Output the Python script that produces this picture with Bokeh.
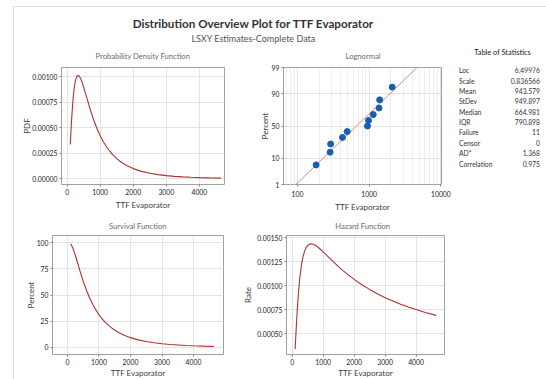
from statistics import NormalDist
from bokeh.plotting import figure
from bokeh.models import Range1d, FixedTicker, PrintfTickFormatter, Spacer
from bokeh.layouts import column, row
from bokeh.embed import file_html
from bokeh.resources import INLINE
from bokeh.core.properties import value

# ---------------- data ----------------
main_title = "Distribution Overview Plot for TTF Evaporator"
sub_title = "LSXY Estimates-Complete Data"
panel_titles_top = ["Probability Density Function", "Lognormal"]
panel_titles_bottom = ["Survival Function", "Hazard Function"]

ttf = [95, 110, 120, 130, 150, 175, 200, 225, 250, 300, 350, 400, 450, 500, 600, 700, 800, 900,
       1000, 1100, 1200, 1350, 1500, 1650, 1800, 2000, 2250, 2500, 2750, 3000, 3250, 3500, 3750,
       4000, 4300, 4650]
pdf_vals = [0.000336, 0.000429, 0.000489, 0.000547, 0.000652, 0.000763, 0.000850, 0.000916, 0.000963,
            0.001011, 0.001015, 0.000991, 0.000950, 0.000900, 0.000789, 0.000680, 0.000582, 0.000496,
            0.000423, 0.000362, 0.000310, 0.000247, 0.000198, 0.000160, 0.000131, 0.000100, 0.000073,
            0.000055, 0.000041, 0.000031, 0.000024, 0.000019, 0.000015, 0.000012, 0.000009, 0.000007]
surv_pct = [99.0, 98.4, 98.0, 97.4, 96.3, 94.5, 92.5, 90.2, 87.9, 82.9, 77.9, 72.8, 68.0, 63.3, 54.9,
            47.6, 41.3, 35.9, 31.3, 27.4, 24.0, 19.9, 16.5, 13.9, 11.7, 9.4, 7.3, 5.7, 4.5, 3.6, 2.9,
            2.4, 1.9, 1.6, 1.3, 1.0]
hazard = [0.000339, 0.000436, 0.000499, 0.000561, 0.000677, 0.000807, 0.000919, 0.001015, 0.001096,
          0.001219, 0.001304, 0.001361, 0.001398, 0.001421, 0.001437, 0.001430, 0.001411, 0.001383,
          0.001352, 0.001322, 0.001291, 0.001243, 0.001197, 0.001155, 0.001115, 0.001066, 0.001010,
          0.000961, 0.000915, 0.000875, 0.000840, 0.000805, 0.000777, 0.000750, 0.000719, 0.000690]

fail_times = [182, 285, 290, 424, 494, 947, 979, 1139, 1370, 1400, 2094]
fail_pct = [6.1, 14.9, 23.7, 32.5, 41.2, 50.0, 58.8, 67.5, 76.3, 85.1, 93.9]
fit_x = [95, 4660]
fit_pct = [1, 99]

x_ticks = [0, 1000, 2000, 3000, 4000]
pdf_ticks = [0.0, 0.00025, 0.0005, 0.00075, 0.001]
surv_ticks = [0, 25, 50, 75, 100]
haz_ticks = [0.0005, 0.00075, 0.001, 0.00125, 0.0015]
log_x_ticks = [100, 1000, 10000]
log_x_minor = [70, 80, 90, 200, 300, 400, 500, 600, 700, 800, 900,
               2000, 3000, 4000, 5000, 6000, 7000, 8000, 9000]
prob_ticks = [1, 10, 50, 90, 99]

stat_title = "Table of Statistics"
stat_labels = ["Loc", "Scale", "Mean", "StDev", "Median", "IQR", "Failure", "Censor", "AD*", "Correlation"]
stat_values = ["6.49976", "0.836566", "943.579", "949.897", "664.981", "790.898", "11", "0", "1.368", "0.975"]

# ---------------- style ----------------
FONT = "Lato"
CURVE = "#b0302c"
FIT = "#d98a80"
DOT = "#1560b0"
GRID = "#e3e3e3"
PTITLE = "#6a6a6a"

nd = NormalDist()
def zq(p):
    return nd.inv_cdf(p / 100.0)


def blank(w, h):
    f = figure(frame_width=w, frame_height=h, x_range=Range1d(0, w), y_range=Range1d(h, 0),
               output_backend="svg", toolbar_location=None, min_border=0, title=None,
               x_axis_location=None, y_axis_location=None)
    f.grid.visible = False
    f.outline_line_color = None
    return f


def make_panel(xr, yr, fw, fh, bl, bt, br, bb, ylabel, xstand, ystand, x_axis_type="linear"):
    p = figure(frame_width=fw, frame_height=fh, x_range=xr, y_range=yr, title=None,
               x_axis_type=x_axis_type, output_backend="svg", toolbar_location=None,
               min_border_left=bl, min_border_top=bt, min_border_right=br, min_border_bottom=bb,
               background_fill_color="white", border_fill_color="white")
    p.outline_line_color = "#a0a0a0"
    p.outline_line_width = 1
    for ax in p.axis:
        ax.axis_line_color = None
        ax.major_tick_line_color = "#808080"
        ax.major_tick_out = 2
        ax.major_tick_in = 0
        ax.minor_tick_line_color = None
        ax.major_label_text_font = FONT
        ax.major_label_text_font_size = "6.8px"
        ax.major_label_text_color = "#222222"
        ax.major_label_standoff = 2
        ax.axis_label_text_font = FONT
        ax.axis_label_text_font_size = "8px"
        ax.axis_label_text_font_style = "normal"
        ax.axis_label_text_color = "#3a3a3a"
    p.xaxis.axis_label_standoff = xstand
    p.yaxis.axis_label_standoff = ystand
    p.xaxis.axis_label = "TTF Evaporator"
    p.yaxis.axis_label = ylabel
    p.grid.grid_line_color = GRID
    p.grid.grid_line_width = 1
    return p

# Header (main title, subtitle, top panel titles, table title)
p_head = blank(532, 55)
p_head.text(x=[239], y=[15.5], text=[main_title], text_font=value(FONT),
            text_font_size=value("11.7px"), text_font_style="bold", text_align="center",
            text_baseline="middle", text_color="#333333")
p_head.text(x=[239], y=[31], text=[sub_title], text_font=value(FONT),
            text_font_size=value("9px"), text_align="center", text_baseline="middle",
            text_color="#555555")
p_head.text(x=[128.4, 348.5], y=[48.7, 48.7], text=panel_titles_top, text_font=value(FONT),
            text_font_size=value("7.6px"), text_align="center", text_baseline="middle",
            text_color=PTITLE)
p_head.text(x=[488], y=[44.5], text=[stat_title], text_font=value(FONT),
            text_font_size=value("7.4px"), text_align="center", text_baseline="middle",
            text_color="#222222")

# PDF panel
p_pdf = make_panel(Range1d(-170, 4760), Range1d(-0.000056, 0.001093),
                   163, 117, 47, 5, 16, 31, "PDF", 2, -3)
p_pdf.xaxis.ticker = FixedTicker(ticks=x_ticks)
p_pdf.yaxis.ticker = FixedTicker(ticks=pdf_ticks)
p_pdf.yaxis.formatter = PrintfTickFormatter(format="%.5f")
p_pdf.line(ttf, pdf_vals, line_color=CURVE, line_width=1.1)

# Lognormal probability panel
p_log = make_panel(Range1d(63.8, 10200), Range1d(zq(1), zq(99)),
                   158, 117, 43, 5, 14, 31, "Percent", 2, -1, x_axis_type="log")
p_log.xaxis.ticker = FixedTicker(ticks=log_x_ticks, minor_ticks=log_x_minor)
p_log.xaxis.formatter = PrintfTickFormatter(format="%d")
p_log.xgrid.minor_grid_line_color = "#eeeeee"
prob_z = [zq(v) for v in prob_ticks]
p_log.yaxis.ticker = FixedTicker(ticks=prob_z)
p_log.yaxis.major_label_overrides = {zz: str(v) for zz, v in zip(prob_z, prob_ticks)}
p_log.line(fit_x, [zq(v) for v in fit_pct], line_color=FIT, line_width=1)
p_log.scatter(fail_times, [zq(v) for v in fail_pct], size=6, fill_color=DOT, line_color=DOT)

# Table of statistics
p_tab = blank(91, 153)
row_y = [2.7 + i * 10.37 for i in range(len(stat_labels))]
p_tab.text(x=[3.5] * len(stat_labels), y=row_y, text=stat_labels, text_font=value(FONT),
           text_font_size=value("6.8px"), text_align="left", text_baseline="middle",
           text_color="#333333")
p_tab.text(x=[84.5] * len(stat_values), y=row_y, text=stat_values, text_font=value(FONT),
           text_font_size=value("6.8px"), text_align="right", text_baseline="middle",
           text_color="#333333")

# Strip with bottom panel titles
p_strip = blank(532, 17)
p_strip.text(x=[123.2, 348.2], y=[10, 10], text=panel_titles_bottom, text_font=value(FONT),
             text_font_size=value("7.6px"), text_align="center", text_baseline="middle",
             text_color=PTITLE)

# Survival panel
p_surv = make_panel(Range1d(-476, 4952), Range1d(-6.7, 107),
                    171, 119, 38, 3, 17, 25, "Percent", 0, -2)
p_surv.xaxis.ticker = FixedTicker(ticks=x_ticks)
p_surv.yaxis.ticker = FixedTicker(ticks=surv_ticks)
p_surv.line(ttf, surv_pct, line_color=CURVE, line_width=1.1)

# Hazard panel
p_haz = make_panel(Range1d(-185, 4919), Range1d(0.000281, 0.001524),
                   158, 119, 43, 3, 14, 25, "Rate", 0, 1)
p_haz.xaxis.ticker = FixedTicker(ticks=x_ticks)
p_haz.yaxis.ticker = FixedTicker(ticks=haz_ticks)
p_haz.yaxis.formatter = PrintfTickFormatter(format="%.5f")
p_haz.line(ttf, hazard, line_color=CURVE, line_width=1.1)

layout = column(
    p_head,
    row(p_pdf, p_log, p_tab, spacing=0),
    p_strip,
    row(p_surv, p_haz, Spacer(width=91, height=147), spacing=0),
    spacing=0,
    margin=(6, 0, 0, 13),
    styles={"border-top": "1px solid #dcdcdc", "border-left": "1px solid #dcdcdc"},
)

open("out.html", "w").write(file_html(layout, INLINE))
